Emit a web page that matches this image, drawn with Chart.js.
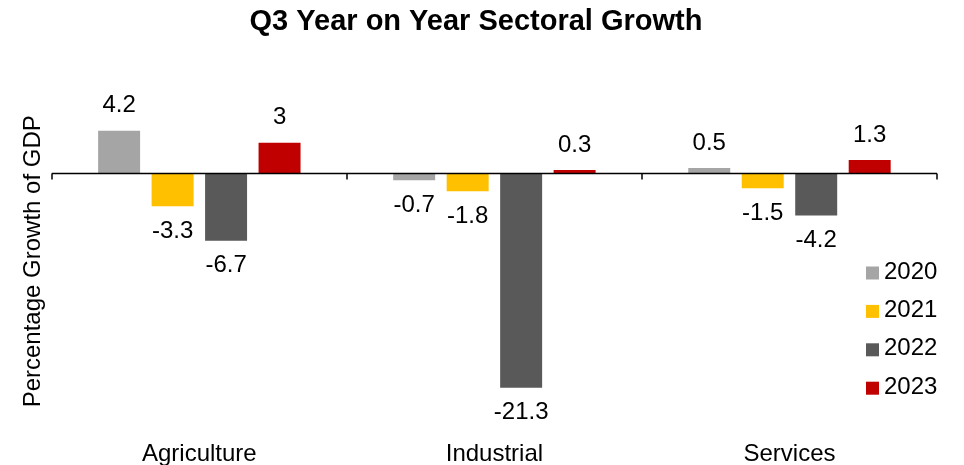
<!DOCTYPE html>
<html>
<head>
<meta charset="utf-8">
<script src="https://cdn.jsdelivr.net/npm/chart.js@4.4.1/dist/chart.umd.min.js"></script>
<style>
  html, body { margin: 0; padding: 0; background: #fff; }
  #wrap { width: 964px; height: 465px; position: relative; }
</style>
</head>
<body>
<div id="wrap"><canvas id="growthChart"></canvas></div>
<script>
// dados do gráfico
const sectors = ['Agriculture', 'Industrial', 'Services'];
const years = ['2020', '2021', '2022', '2023'];
const growth2020 = [4.2, -0.7, 0.5];
const growth2021 = [-3.3, -1.8, -1.5];
const growth2022 = [-6.7, -21.3, -4.2];
const growth2023 = [3, 0.3, 1.3];
const yearColors = ['#A5A5A5', '#FFC000', '#595959', '#C00000'];

const FONT = 'Arial, "Liberation Sans", sans-serif';

// linha do zero com marcas entre categorias
const zeroAxis = {
    id: 'zeroAxis',
    afterDatasetsDraw(chart) {
        const ctx = chart.ctx;
        const x = chart.scales.x, y = chart.scales.y;
        const y0 = Math.round(y.getPixelForValue(0)) + 0.5;
        const area = chart.chartArea;
        ctx.save();
        ctx.strokeStyle = '#000';
        ctx.lineWidth = 1.5;
        ctx.beginPath();
        ctx.moveTo(area.left, y0);
        ctx.lineTo(area.right, y0);
        for (let i = 0; i <= sectors.length; i++) {
            const px = Math.round(x.getPixelForValue(i - 0.5));
            ctx.moveTo(px, y0);
            ctx.lineTo(px, y0 + 6);
        }
        ctx.stroke();
        ctx.restore();
    }
};

// rótulos de valor acima/abaixo das barras
const valueLabels = {
    id: 'valueLabels',
    afterDatasetsDraw(chart) {
        const ctx = chart.ctx;
        ctx.save();
        ctx.font = '24px ' + FONT;
        ctx.fillStyle = '#000';
        ctx.textAlign = 'center';
        ctx.textBaseline = 'middle';
        chart.data.datasets.forEach((ds, i) => {
            chart.getDatasetMeta(i).data.forEach((bar, j) => {
                const v = ds.data[j];
                const ty = v >= 0 ? bar.y - 25 : bar.y + 25;
                ctx.fillText(String(v), bar.x, ty);
            });
        });
        ctx.restore();
    }
};

// legenda desenhada no canto inferior direito
const sideLegend = {
    id: 'sideLegend',
    afterDraw(chart) {
        const ctx = chart.ctx;
        ctx.save();
        ctx.font = '24px ' + FONT;
        ctx.textBaseline = 'middle';
        ctx.textAlign = 'left';
        chart.data.datasets.forEach((ds, i) => {
            const cy = 273 + i * 38.4;
            ctx.fillStyle = ds.backgroundColor;
            ctx.fillRect(866, cy - 6.5, 13, 13);
            ctx.fillStyle = '#000';
            ctx.fillText(ds.label, 884, cy - 1);
        });
        ctx.restore();
    }
};

const allGrowth = [growth2020, growth2021, growth2022, growth2023];

const ctx = document.getElementById('growthChart').getContext('2d');
const growthChart = new Chart(ctx, {
    type: 'bar',
    data: {
        labels: sectors,
        datasets: years.map((yr, i) => ({
            label: yr,
            data: allGrowth[i],
            backgroundColor: yearColors[i],
            categoryPercentage: 0.725,
            barPercentage: 0.785
        }))
    },
    options: {
        responsive: true,
        maintainAspectRatio: false,
        animation: false,
        layout: { padding: { left: 15, right: 27, top: 0, bottom: -4 } },
        plugins: {
            legend: { display: false },
            tooltip: { enabled: false },
            title: {
                display: true,
                text: 'Q3 Year on Year Sectoral Growth',
                color: '#000',
                font: { family: FONT, size: 29, weight: 'bold' },
                padding: { top: 5, bottom: 42.6 }
            }
        },
        scales: {
            x: {
                grid: { display: false, drawTicks: false },
                border: { display: false },
                ticks: { color: '#000', font: { family: FONT, size: 24 }, padding: 0 }
            },
            y: {
                min: -26.5,
                max: 9,
                grid: { display: false, drawTicks: false },
                border: { display: false },
                ticks: { display: false },
                title: {
                    display: true,
                    text: 'Percentage Growth of GDP',
                    color: '#000',
                    font: { family: FONT, size: 24 }
                }
            }
        }
    },
    plugins: [zeroAxis, valueLabels, sideLegend]
});
</script>
</body>
</html>
